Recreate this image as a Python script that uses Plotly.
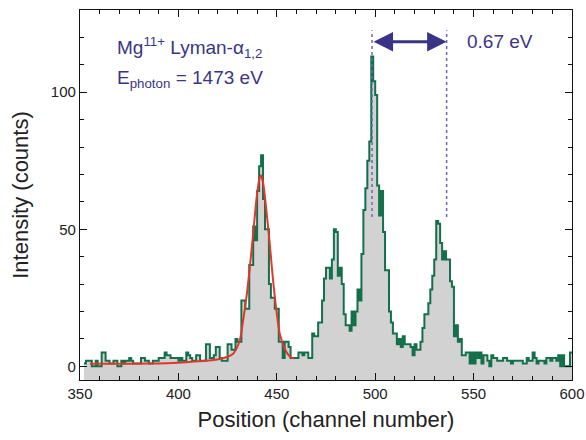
import plotly.graph_objects as go

# Spectrum: counts per detector channel (bin left edges 352 ... 599)
channels = list(range(352, 600))
counts = [
    1, 2, 2, 2, 0, 0, 2, 0,                      # 352-359
    0, 5, 5, 2, 2, 1, 1, 2, 2, 0,                # 360-369
    0, 2, 1, 2, 2, 3, 2, 1, 1, 1,                # 370-379
    1, 3, 3, 2, 2, 1, 1, 2, 2, 2,                # 380-389
    3, 3, 3, 5, 4, 4, 3, 3, 3, 3,                # 390-399
    2, 3, 2, 2, 5, 4, 3, 2, 2, 4,                # 400-409
    4, 2, 2, 2, 8, 8, 3, 3, 4, 7,                # 410-419
    7, 3, 2, 2, 2, 8, 8, 6, 6, 10,               # 420-429
    9, 9, 24, 24, 21, 21, 37, 37, 51, 46,        # 430-439
    64, 73, 77, 61, 50, 50, 30, 25, 25, 21,      # 440-449
    21, 9, 9, 3, 9, 9, 7, 3, 3, 3,               # 450-459
    3, 5, 5, 4, 5, 5, 3, 3, 12, 11,              # 460-469
    11, 16, 16, 24, 32, 36, 36, 32, 39, 50,      # 470-479
    49, 33, 36, 30, 19, 15, 15, 13, 20, 15,      # 480-489
    20, 28, 24, 41, 57, 65, 75, 82, 113, 104,    # 490-499
    99, 66, 55, 64, 49, 35, 35, 20, 16, 12,      # 500-509
    12, 8, 10, 7, 11, 8, 8, 8, 7, 4,             # 510-519
    8, 6, 6, 9, 14, 19, 19, 23, 28, 33,          # 520-529
    39, 53, 52, 45, 39, 42, 39, 39, 31, 29,      # 530-539
    11, 15, 9, 10, 4, 4, 5, 5, 1, 5,             # 540-549
    1, 5, 3, 5, 1, 4, 4, 2, 0, 4,                # 550-559
    3, 3, 2, 2, 2, 3, 3, 2, 2, 1,                # 560-569
    2, 2, 2, 2, 2, 1, 1, 3, 2, 2,                # 570-579
    5, 3, 1, 2, 2, 2, 1, 3, 3, 2,                # 580-589
    3, 3, 2, 4, 0, 4, 0, 0, 0, 5,                # 590-599
]

# Line-profile fit of the first line
fit_x = [355, 370, 385, 400, 410, 418, 423, 427.8, 431.2, 432.9, 434.6, 436.3,
         438, 439.7, 441, 441.9, 443.1, 444.7, 446.4, 448.1, 449.8, 451.5,
         454, 456.6, 459]
fit_y = [0.9, 0.9, 1.0, 1.3, 1.8, 2.3, 3.0, 4.6, 9.5, 16.8, 25.3, 36.2,
         48.4, 61.2, 67.9, 69.7, 66.7, 56.9, 44.8, 31.4, 20.4, 11.9,
         6.5, 3.6, 2.8]

# Separation marker between the two main lines
sep_x = [498.4, 536.3]
sep_y_low, sep_y_high = 54.5, 122.6
arrow_y = 118.4

x_range = [350, 600]
y_range = [-5, 130]
x_ticks = [350, 400, 450, 500, 550, 600]
y_ticks = [0, 50, 100]

FONT = "Liberation Sans, Arial, sans-serif"
NAVY = "#3b3486"
GREEN = "#13704a"
GREY = "#d2d2d2"
RED = "#e2372b"

x_steps = channels + [channels[-1] + 1]
y_steps = counts + [counts[-1]]

fig = go.Figure()

# floor of the shaded area (bottom of the axis box)
fig.add_trace(go.Scatter(
    x=[x_steps[0], x_steps[-1]], y=[y_range[0], y_range[0]],
    mode="lines", line=dict(width=0, color=GREY),
    showlegend=False, hoverinfo="skip"))

fig.add_trace(go.Scatter(
    x=x_steps, y=y_steps, mode="lines",
    line=dict(shape="hv", color=GREEN, width=2),
    fill="tonexty", fillcolor=GREY, showlegend=False))

fig.add_trace(go.Scatter(
    x=fit_x, y=fit_y, mode="lines",
    line=dict(shape="spline", smoothing=0.7, color=RED, width=2),
    showlegend=False))

for xv in sep_x:
    fig.add_shape(type="line", xref="x", yref="y",
                  x0=xv, x1=xv, y0=sep_y_low, y1=sep_y_high,
                  line=dict(color="#6d66c6", width=1.5, dash="dot"))

fig.add_annotation(
    x=sep_x[1], y=arrow_y, ax=sep_x[0], ay=arrow_y,
    xref="x", yref="y", axref="x", ayref="y",
    text="", showarrow=True, arrowside="end+start",
    arrowhead=2, startarrowhead=2, arrowsize=1.3, startarrowsize=1.3,
    arrowwidth=3, arrowcolor=NAVY, standoff=0, startstandoff=0)

fig.add_annotation(
    x=563.5, y=118.6, xref="x", yref="y", text="0.67 eV",
    showarrow=False, font=dict(family=FONT, size=19, color=NAVY),
    xanchor="center", yanchor="middle")

fig.add_annotation(
    x=367.8, y=116.5, xref="x", yref="y",
    text="Mg<sup>11+</sup> Lyman-α<sub>1,2</sub>",
    showarrow=False, font=dict(family=FONT, size=19, color=NAVY),
    xanchor="left", yanchor="middle")

fig.add_annotation(
    x=367.8, y=105.0, xref="x", yref="y",
    text="E<sub>photon</sub> = 1473 eV",
    showarrow=False, font=dict(family=FONT, size=19, color=NAVY),
    xanchor="left", yanchor="middle")

axis_common = dict(
    showline=True, linecolor="#111", linewidth=1.3, mirror="ticks",
    ticks="inside", ticklen=7, tickwidth=1.2, tickcolor="#111",
    showgrid=False, zeroline=False, automargin=False,
    tickfont=dict(family=FONT, size=15, color="#222"),
)

fig.update_xaxes(
    range=x_range, tickvals=x_ticks, **axis_common,
    minor=dict(ticks="inside", ticklen=4, tickwidth=1, tickcolor="#111",
               dtick=10, tick0=350, showgrid=False),
    title=dict(text="Position (channel number)",
               font=dict(family=FONT, size=22, color="#222"), standoff=10))

fig.update_yaxes(
    range=y_range, tickvals=y_ticks, **axis_common,
    minor=dict(ticks="inside", ticklen=4, tickwidth=1, tickcolor="#111",
               dtick=10, tick0=0, showgrid=False),
    title=dict(text="Intensity (counts)",
               font=dict(family=FONT, size=22, color="#222"), standoff=16))

fig.update_layout(
    width=586, height=440,
    margin=dict(l=80, r=14, t=10, b=60),
    paper_bgcolor="white", plot_bgcolor="white",
    showlegend=False,
)

fig.write_html("out.html")
